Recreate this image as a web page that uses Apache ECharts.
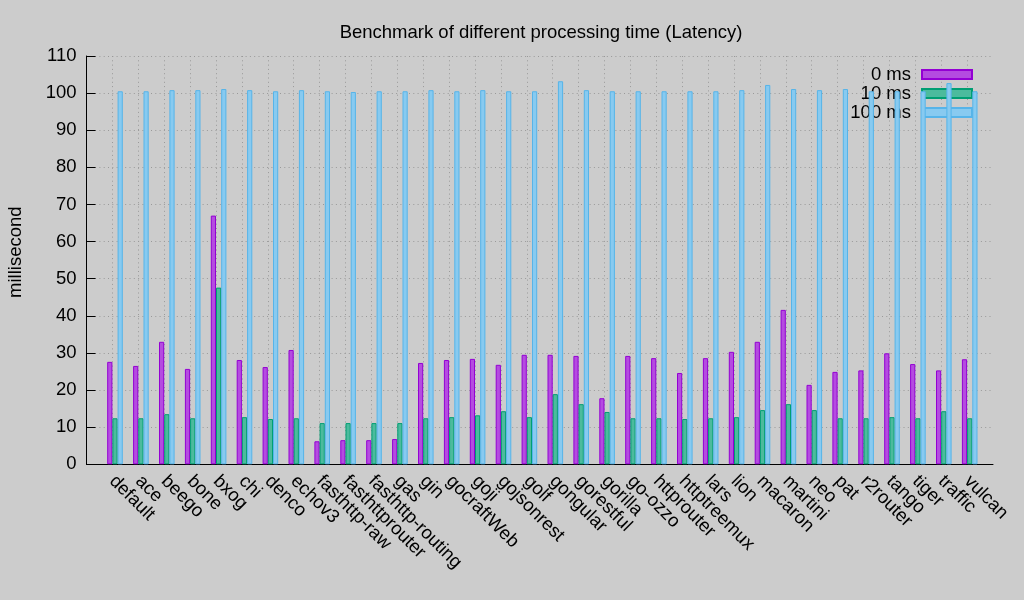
<!DOCTYPE html>
<html>
<head>
<meta charset="utf-8">
<script src="https://cdn.jsdelivr.net/npm/echarts@6/dist/echarts.min.js"></script>
<style>html,body{margin:0;padding:0;background:#cccccc;}#c{width:1024px;height:600px;}</style>
</head>
<body>
<div id="c"></div>
<script>
const categories = ['default','ace','beego','bone','bxog','chi','denco','echov3','fasthttp-raw','fasthttprouter','fasthttp-routing','gas','gin','gocraftWeb','goji','gojsonrest','golf','gongular','gorestful','gorilla','go-ozzo','httprouter','httptreemux','lars','lion','macaron','martini','neo','pat','r2router','tango','tiger','traffic','vulcan'];
const zeroMs = [27.6,26.5,33.0,25.7,67.0,28.1,26.2,30.8,6.2,6.5,6.5,6.8,27.3,28.1,28.4,26.8,29.5,29.5,29.2,17.8,29.2,28.6,24.6,28.6,30.3,33.0,41.6,21.4,24.9,25.3,29.9,27.0,25.3,28.3];
const tenMs = [12.4,12.4,13.5,12.4,47.6,12.7,12.2,12.4,11.1,11.1,11.1,11.1,12.4,12.7,13.2,14.3,12.7,18.9,16.2,14.1,12.4,12.4,12.2,12.4,12.7,14.6,16.2,14.6,12.4,12.4,12.7,12.4,14.3,12.4];
const hundredMs = [100.5,100.5,100.8,100.8,101.1,100.8,100.5,100.8,100.5,100.3,100.5,100.5,100.8,100.5,100.8,100.5,100.5,103.2,100.8,100.5,100.5,100.5,100.5,100.5,100.8,102.2,101.1,100.8,101.1,100.5,100.5,100.5,102.7,100.5];
const seriesNames = ['0 ms','10 ms','100 ms'];
const yTicks = {min: 0, max: 110, interval: 10};

const FONT = 'Liberation Sans, Arial, sans-serif';
const FS = 18.5;
const toPairs = arr => arr.map((v, i) => [i, v]);

const chart = echarts.init(document.getElementById('c'), null, {renderer: 'canvas'});
const barStyle = (fill, border) => ({color: fill, borderColor: border, borderWidth: 1});
chart.setOption({
  animation: false,
  backgroundColor: '#cccccc',
  textStyle: {fontFamily: FONT},
  title: {
    text: 'Benchmark of different processing time (Latency)',
    left: 536, top: 18, textAlign: 'center',
    textStyle: {fontFamily: FONT, fontSize: FS, fontWeight: 'normal', color: '#000'}
  },
  legend: {
    data: seriesNames,
    orient: 'vertical',
    right: 51, top: 65,
    align: 'right',
    icon: 'rect',
    itemWidth: 50, itemHeight: 9, itemGap: 0,
    padding: 0,
    z: 1,
    textStyle: {fontFamily: FONT, fontSize: FS, color: '#000', lineHeight: 19, padding: [0, 6, 0, 0]}
  },
  grid: {left: 86.5, right: 31, top: 56, bottom: 135.7, outerBoundsMode: 'none'},
  xAxis: {
    type: 'value', min: -1, max: 34, interval: 1,
    axisLine: {show: true, onZero: false, lineStyle: {color: '#000', width: 1}},
    axisTick: {show: false},
    axisLabel: {
      rotate: -45, margin: 14, fontFamily: FONT, fontSize: FS, color: '#000',
      formatter: v => (v >= 0 && v < categories.length && Number.isInteger(v)) ? categories[v] : ''
    },
    splitLine: {show: true, showMinLine: false, showMaxLine: false, lineStyle: {color: '#999', width: 1, type: [1, 3.3]}}
  },
  yAxis: {
    type: 'value', min: yTicks.min, max: yTicks.max, interval: yTicks.interval,
    name: 'millisecond', nameLocation: 'middle', nameGap: 61, nameRotate: 90,
    nameTextStyle: {fontFamily: FONT, fontSize: FS, color: '#000', padding: [0, 0, 0, 16]},
    axisLine: {show: true, onZero: false, lineStyle: {color: '#000', width: 1}},
    axisTick: {show: true, inside: true, length: 9, lineStyle: {color: '#000'}},
    axisLabel: {margin: 10, fontFamily: FONT, fontSize: FS, color: '#000'},
    splitLine: {show: true, showMinLine: false, lineStyle: {color: '#999', width: 1, type: [1, 3.3]}}
  },
  series: [
    {name: 'spacer', type: 'bar', data: [], barWidth: 5.2, barGap: '0%', silent: true},
    {name: seriesNames[0], type: 'bar', data: toPairs(zeroMs), barWidth: 5.2, barGap: '0%', itemStyle: barStyle('#b44ce0', '#9400d3')},
    {name: seriesNames[1], type: 'bar', data: toPairs(tenMs), barWidth: 5.2, barGap: '0%', itemStyle: barStyle('#4cbb9d', '#009e73')},
    {name: seriesNames[2], type: 'bar', data: toPairs(hundredMs), barWidth: 5.2, barGap: '0%', itemStyle: barStyle('#88caf0', '#56b4e9')}
  ]
});
</script>
</body>
</html>
